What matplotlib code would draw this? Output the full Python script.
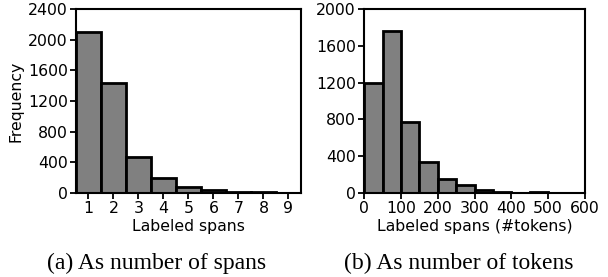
import numpy as np
import matplotlib.pyplot as plt

# -------------------------------------------------------------
# Data
# -------------------------------------------------------------
span_counts = [1, 2, 3, 4, 5, 6, 7, 8, 9]
span_freq = [2095, 1440, 472, 192, 78, 45, 18, 10, 5]

token_edges = [0, 50, 100, 150, 200, 250, 300, 350, 400, 450, 500, 550, 600]
token_freq = [1200, 1755, 775, 338, 148, 87, 32, 12, 5, 8, 3, 3]

captions = ["(a) As number of spans", "(b) As number of tokens"]

# -------------------------------------------------------------
# Plots
# -------------------------------------------------------------
plt.rcParams["font.family"] = "DejaVu Sans"
plt.rcParams["font.size"] = 11.3

fig = plt.figure(figsize=(6.08, 2.77), dpi=100)
ax1 = fig.add_axes([0.125, 0.303, 0.370, 0.665])
ax2 = fig.add_axes([0.599, 0.303, 0.363, 0.665])

bar_kw = dict(color="#808080", edgecolor="black", linewidth=2.0)

ax1.bar(span_counts, span_freq, width=1.0, align="center", **bar_kw)
ax1.set_xlim(0.5, 9.5)
ax1.set_ylim(0, 2400)
ax1.set_xticks(span_counts)
ax1.set_yticks(np.arange(0, 2401, 400))
ax1.set_xlabel("Labeled spans", labelpad=2)
ax1.set_ylabel("Frequency", labelpad=3)

widths = np.diff(token_edges)
ax2.bar(token_edges[:-1], token_freq, width=widths, align="edge", **bar_kw)
ax2.set_xlim(0, 600)
ax2.set_ylim(0, 2000)
ax2.set_xticks(np.arange(0, 601, 100))
ax2.set_yticks(np.arange(0, 2001, 400))
ax2.set_xlabel("Labeled spans (#tokens)", labelpad=2)

for ax in (ax1, ax2):
    for s in ax.spines.values():
        s.set_linewidth(1.5)
    ax.tick_params(width=1.3, length=4, pad=2)

fig.text(0.257, 0.05, captions[0], ha="center", va="center",
         family="Liberation Serif", fontsize=17)
fig.text(0.755, 0.05, captions[1], ha="center", va="center",
         family="Liberation Serif", fontsize=17)

fig.savefig("out.png", dpi=100)
